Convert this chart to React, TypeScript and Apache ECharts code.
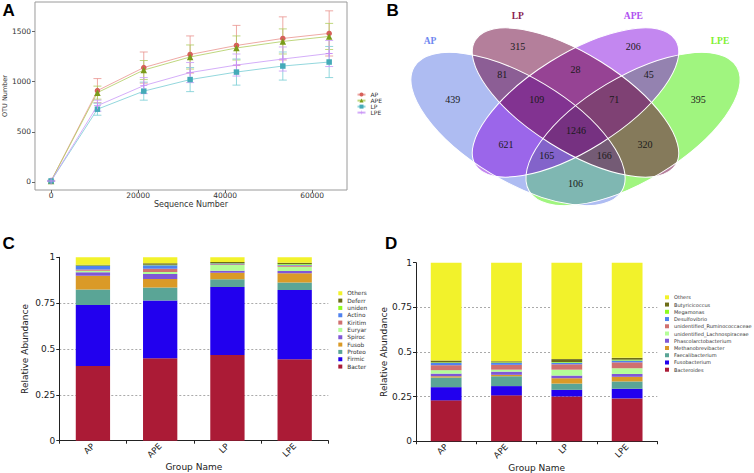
import React, { useEffect, useRef } from "react";
import * as echarts from "echarts";

// ---------- Panel A: rarefaction curves ----------
const seqDepth = [0, 10650, 21300, 31950, 42600, 53250, 63900];
const otuAP = [10, 910, 1140, 1270, 1360, 1430, 1480];
const otuAPE = [10, 890, 1115, 1245, 1335, 1400, 1450];
const otuLP = [10, 725, 905, 1020, 1095, 1155, 1195];
const otuLPE = [10, 760, 960, 1090, 1165, 1225, 1280];
const errAP = [5, 120, 155, 185, 200, 215, 225];
const errAPE = [5, 65, 95, 120, 120, 125, 130];
const errLP = [5, 60, 90, 120, 130, 140, 155];
const errLPE = [5, 55, 80, 100, 110, 120, 130];
const xTicksA = [0, 20000, 40000, 60000];
const yTicksA = [0, 500, 1000, 1500];

// ---------- Panel B: Venn ----------
const vennSets = ["AP", "LP", "APE", "LPE"];
const vennRegions = [
  "AP", "LP", "APE", "LPE", "AP&LP", "LP&APE", "APE&LPE", "AP&LP&APE",
  "LP&APE&LPE", "AP&LP&APE&LPE", "AP&APE", "LP&LPE", "AP&APE&LPE", "AP&LP&LPE", "AP&LPE",
];
const vennCounts = [439, 315, 206, 395, 81, 28, 45, 109, 71, 1246, 621, 320, 165, 166, 106];

// ---------- Panel C: phylum ----------
const groups = ["AP", "APE", "LP", "LPE"];
const phyla = [
  "Bacteroidetes", "Firmicutes", "Proteobacteria", "Fusobacteria", "Spirochaetes",
  "Euryarchaeota", "Kiritimatiellaeota", "Actinobacteria", "unidentified_Bacteria",
  "Deferribacteres", "Others",
];
const phylumBacteroidetes = [0.407, 0.449, 0.467, 0.444];
const phylumFirmicutes = [0.333, 0.315, 0.371, 0.378];
const phylumProteobacteria = [0.085, 0.071, 0.042, 0.04];
const phylumFusobacteria = [0.075, 0.047, 0.036, 0.051];
const phylumSpirochaetes = [0.018, 0.027, 0.011, 0.012];
const phylumEuryarchaeota = [0.009, 0.011, 0.031, 0.024];
const phylumKiritimatiellaeota = [0.007, 0.018, 0.004, 0.006];
const phylumActinobacteria = [0.018, 0.018, 0.004, 0.005];
const phylumUnidentified = [0.003, 0.004, 0.002, 0.004];
const phylumDeferribacteres = [0.005, 0.007, 0.006, 0.006];
const phylumOthers = [0.04, 0.033, 0.026, 0.03];

// ---------- Panel D: genus ----------
const genera = [
  "Bacteroides", "Fusobacterium", "Faecalibacterium", "Methanobrevibacter",
  "Phascolarctobacterium", "unidentified_Lachnospiraceae", "unidentified_Ruminococcaceae",
  "Desulfovibrio", "Megamonas", "Butyricicoccus", "Others",
];
const genusBacteroides = [0.229, 0.257, 0.251, 0.24];
const genusFusobacterium = [0.074, 0.052, 0.037, 0.054];
const genusFaecalibacterium = [0.054, 0.055, 0.035, 0.041];
const genusMethanobrevibacter = [0.007, 0.008, 0.03, 0.026];
const genusPhascolarctobacterium = [0.015, 0.018, 0.015, 0.016];
const genusLachnospiraceae = [0.019, 0.011, 0.033, 0.032];
const genusRuminococcaceae = [0.028, 0.027, 0.03, 0.033];
const genusDesulfovibrio = [0.013, 0.011, 0.009, 0.01];
const genusMegamonas = [0.003, 0.003, 0.004, 0.005];
const genusButyricicoccus = [0.01, 0.006, 0.016, 0.01];
const genusOthers = [0.548, 0.552, 0.54, 0.533];

// ---------- styles ----------
const stackColors = [
  "#ab1b36", "#2200ee", "#5aa596", "#da9a27", "#7f57d6", "#b4fd98",
  "#d0706f", "#4f82ef", "#8efb1f", "#6d6d18", "#f2f22b",
];
const SANS = "DejaVu Sans";
const SERIF = "Liberation Serif";

const rareStyles = [
  { name: "AP", data: otuAP, err: errAP, symbol: "circle", size: 5.5, color: "#d6605a", line: "rgba(232,140,135,0.75)" },
  { name: "APE", data: otuAPE, err: errAPE, symbol: "triangle", size: 6.5, color: "#7a9b1a", line: "rgba(175,205,95,0.8)" },
  { name: "LP", data: otuLP, err: errLP, symbol: "rect", size: 5.5, color: "#45aab8", line: "rgba(120,205,212,0.8)" },
  {
    name: "LPE", data: otuLPE, err: errLPE,
    symbol: "path://M4.4 0h1.2v4.4h4.4v1.2h-4.4v4.4h-1.2v-4.4h-4.4v-1.2h4.4z",
    size: 7, color: "#c98df5", line: "rgba(205,160,248,0.85)",
  },
];

// Venn layout (pixels)
const vennEllipses: Record<string, { cx: number; cy: number; a: number; b: number; deg: number; fill: string; label: string; lx: number; ly: number }> = {
  LPE: { cx: 633, cy: 129, a: 121, b: 52, deg: 31, fill: "rgba(65,235,0,0.5)", label: "#80f030", lx: 720, ly: 40.7 },
  AP: { cx: 518, cy: 129, a: 121, b: 52, deg: -31, fill: "rgba(93,121,229,0.5)", label: "#7088f0", lx: 430, ly: 40.7 },
  APE: { cx: 575.5, cy: 102.5, a: 118, b: 48, deg: 32, fill: "rgba(135,15,225,0.5)", label: "#b050f0", lx: 633.3, ly: 15.7 },
  LP: { cx: 575.5, cy: 102.5, a: 118, b: 48, deg: -32, fill: "rgba(105,0,55,0.5)", label: "#8a2050", lx: 517.7, ly: 15.7 },
};
const drawOrder = ["LPE", "AP", "APE", "LP"];
const regionPos: Record<string, [number, number]> = {
  "AP": [452.7, 99.5], "LP": [517.7, 46.7], "APE": [633.3, 46.7], "LPE": [698.3, 99.5],
  "AP&LP": [502.3, 74], "LP&APE": [575.5, 69.3], "APE&LPE": [648.7, 74],
  "AP&LP&APE": [536.7, 99.5], "LP&APE&LPE": [614.3, 99.5], "AP&LP&APE&LPE": [576, 130],
  "AP&APE": [506, 144.3], "LP&LPE": [645, 144.3], "AP&APE&LPE": [546.7, 155],
  "AP&LP&LPE": [604.3, 155], "AP&LPE": [575.5, 183],
};

function buildOption() {
  const phylumSeries = [
    phylumBacteroidetes, phylumFirmicutes, phylumProteobacteria, phylumFusobacteria,
    phylumSpirochaetes, phylumEuryarchaeota, phylumKiritimatiellaeota, phylumActinobacteria,
    phylumUnidentified, phylumDeferribacteres, phylumOthers,
  ];
  const genusSeries = [
    genusBacteroides, genusFusobacterium, genusFaecalibacterium, genusMethanobrevibacter,
    genusPhascolarctobacterium, genusLachnospiraceae, genusRuminococcaceae, genusDesulfovibrio,
    genusMegamonas, genusButyricicoccus, genusOthers,
  ];

  const series: any[] = [];
  rareStyles.forEach((s) => {
    series.push({
      type: "custom",
      name: s.name + " sd",
      xAxisIndex: 0,
      yAxisIndex: 0,
      silent: true,
      z: 2,
      data: seqDepth.map((x, i) => [x, s.data[i], s.err[i]]),
      renderItem: (params: any, api: any) => {
        const x = api.value(0);
        const y = api.value(1);
        const e = api.value(2);
        const top = api.coord([x, y + e]);
        const bot = api.coord([x, y - e]);
        const w = 4;
        const st = { stroke: s.line, lineWidth: 1 };
        return {
          type: "group",
          children: [
            { type: "line", shape: { x1: top[0], y1: top[1], x2: bot[0], y2: bot[1] }, style: st },
            { type: "line", shape: { x1: top[0] - w, y1: top[1], x2: top[0] + w, y2: top[1] }, style: st },
            { type: "line", shape: { x1: bot[0] - w, y1: bot[1], x2: bot[0] + w, y2: bot[1] }, style: st },
          ],
        };
      },
    });
  });
  rareStyles.forEach((s) => {
    series.push({
      type: "line",
      name: s.name,
      xAxisIndex: 0,
      yAxisIndex: 0,
      z: 3,
      data: seqDepth.map((x, i) => [x, s.data[i]]),
      symbol: s.symbol,
      symbolSize: s.size,
      showAllSymbol: true,
      itemStyle: { color: s.color },
      lineStyle: { color: s.line, width: 1 },
    });
  });
  phyla.forEach((p, k) => {
    series.push({
      type: "bar",
      name: p,
      xAxisIndex: 1,
      yAxisIndex: 1,
      stack: "phylum",
      barWidth: "51%",
      itemStyle: { color: stackColors[k] },
      data: phylumSeries[k],
    });
  });
  genera.forEach((g, k) => {
    series.push({
      type: "bar",
      name: g,
      xAxisIndex: 2,
      yAxisIndex: 2,
      stack: "genus",
      barWidth: "51%",
      itemStyle: { color: stackColors[k] },
      data: genusSeries[k],
    });
  });

  // graphic: panel letters + Venn
  const graphic: any[] = [];
  const letters: [string, number, number][] = [
    ["A", 2.5, 10], ["B", 386.5, 10], ["C", 2.5, 243], ["D", 385, 243],
  ];
  letters.forEach(([t, x, y]) =>
    graphic.push({
      type: "text", x, y, z: 100,
      style: { text: t, fontSize: 17, fontWeight: "bold", fontFamily: "Liberation Sans", fill: "#000", align: "left", verticalAlign: "middle" },
    })
  );
  drawOrder.forEach((k) => {
    const e = vennEllipses[k];
    graphic.push({
      type: "ellipse", x: e.cx, y: e.cy, rotation: (e.deg * Math.PI) / 180, z: 10,
      shape: { cx: 0, cy: 0, rx: e.a, ry: e.b },
      style: { fill: e.fill, stroke: "none" },
    });
  });
  drawOrder.forEach((k) => {
    const e = vennEllipses[k];
    graphic.push({
      type: "ellipse", x: e.cx, y: e.cy, rotation: (e.deg * Math.PI) / 180, z: 11,
      shape: { cx: 0, cy: 0, rx: e.a, ry: e.b },
      style: { fill: "none", stroke: "#ffffff", lineWidth: 1 },
    });
  });
  vennSets.forEach((k) => {
    const e = vennEllipses[k];
    graphic.push({
      type: "text", x: e.lx, y: e.ly, z: 12,
      style: { text: k, fontSize: 9.5, fontWeight: "bold", fontFamily: SERIF, fill: e.label, align: "center", verticalAlign: "middle" },
    });
  });
  vennRegions.forEach((r, i) => {
    const p = regionPos[r];
    graphic.push({
      type: "text", x: p[0], y: p[1], z: 12,
      style: { text: String(vennCounts[i]), fontSize: 10, fontFamily: SERIF, fill: "#1a1a1a", align: "center", verticalAlign: "middle" },
    });
  });

  const barXAxis = (gridIndex: number) => ({
    type: "category",
    gridIndex,
    data: groups,
    axisLine: { show: true, lineStyle: { color: "#222", width: 1 } },
    axisTick: { show: true, interval: 0, length: 3, lineStyle: { color: "#222" } },
    axisLabel: { rotate: 45, fontSize: 8.5, margin: 4, color: "#222", fontFamily: SANS },
    name: "Group Name",
    nameLocation: "middle",
    nameGap: 20,
    nameTextStyle: { fontSize: 9, color: "#222", fontFamily: SANS },
  });
  const barYAxis = (gridIndex: number, gap: number) => ({
    type: "value",
    gridIndex,
    min: 0,
    max: 1,
    interval: 0.25,
    axisLine: { show: true, lineStyle: { color: "#222", width: 1 } },
    axisTick: { show: true, length: 3, lineStyle: { color: "#222" } },
    axisLabel: { fontSize: 9, margin: 4, color: "#222", fontFamily: SANS },
    splitLine: { show: true, showMinLine: false, showMaxLine: false, lineStyle: { color: "#aaa", type: [2, 2], width: 1 } },
    name: "Relative Abundance",
    nameLocation: "middle",
    nameGap: gap,
    nameTextStyle: { fontSize: 9, color: "#222", fontFamily: SANS },
  });

  const plain = (v: number) => String(v);

  return {
    animation: false,
    backgroundColor: "#ffffff",
    grid: [
      { left: 34, top: 2, width: 313, height: 188, show: true, borderColor: "#9a9a9a", borderWidth: 1, backgroundColor: "transparent" },
      { left: 59.3, top: 257.3, width: 269, height: 183.4 },
      { left: 416, top: 262.7, width: 241.3, height: 179.3 },
    ],
    xAxis: [
      {
        type: "value",
        gridIndex: 0,
        min: -3700,
        max: 68000,
        axisLine: { show: false, onZero: false },
        axisTick: { show: true, customValues: xTicksA, length: 3, lineStyle: { color: "#666" } },
        axisLabel: { customValues: xTicksA, formatter: plain, fontSize: 7.5, margin: 1.5, color: "#333", fontFamily: SANS },
        splitLine: { show: false },
        name: "Sequence Number",
        nameLocation: "middle",
        nameGap: 5,
        nameTextStyle: { fontSize: 8, color: "#333", fontFamily: SANS },
      },
      barXAxis(1),
      barXAxis(2),
    ],
    yAxis: [
      {
        type: "value",
        gridIndex: 0,
        min: -80,
        max: 1793,
        axisLine: { show: false, onZero: false },
        axisTick: { show: true, customValues: yTicksA, length: 3, lineStyle: { color: "#666" } },
        axisLabel: { customValues: yTicksA, formatter: plain, fontSize: 7.5, margin: 4, color: "#333", fontFamily: SANS },
        splitLine: { show: false },
        name: "OTU Number",
        nameLocation: "middle",
        nameGap: 25.5,
        nameTextStyle: { fontSize: 6.5, color: "#333", fontFamily: SANS },
      },
      barYAxis(1, 30),
      barYAxis(2, 27.5),
    ],
    legend: [
      {
        orient: "vertical", left: 351.5, top: 86.6, itemWidth: 8, itemHeight: 5, itemGap: 0,
        textStyle: { fontSize: 6, lineHeight: 5.33, color: "#333", fontFamily: SANS },
        data: ["AP", "APE", "LP", "LPE"],
      },
      {
        orient: "vertical", left: 333.3, top: 284.6, itemWidth: 4, itemHeight: 4, itemGap: 0, icon: "rect",
        textStyle: { fontSize: 5.8, lineHeight: 7.33, color: "#333", fontFamily: SANS, width: 21.3, overflow: "truncate", ellipsis: "" },
        data: phyla.slice().reverse(),
      },
      {
        orient: "vertical", left: 660, top: 288.7, itemWidth: 4, itemHeight: 4, itemGap: 0, icon: "rect",
        textStyle: { fontSize: 5, lineHeight: 7.24, color: "#333", fontFamily: SANS },
        data: genera.slice().reverse(),
      },
    ],
    series,
    graphic,
  };
}

export default function App() {
  const ref = useRef<HTMLDivElement>(null);
  useEffect(() => {
    if (!ref.current) return;
    const chart = echarts.init(ref.current, undefined, { renderer: "svg" });
    chart.setOption(buildOption() as any);
    return () => chart.dispose();
  }, []);
  return (
    <div
      ref={ref}
      style={{ position: "fixed", left: 0, top: 0, width: 754, height: 473, background: "#fff" }}
    />
  );
}
